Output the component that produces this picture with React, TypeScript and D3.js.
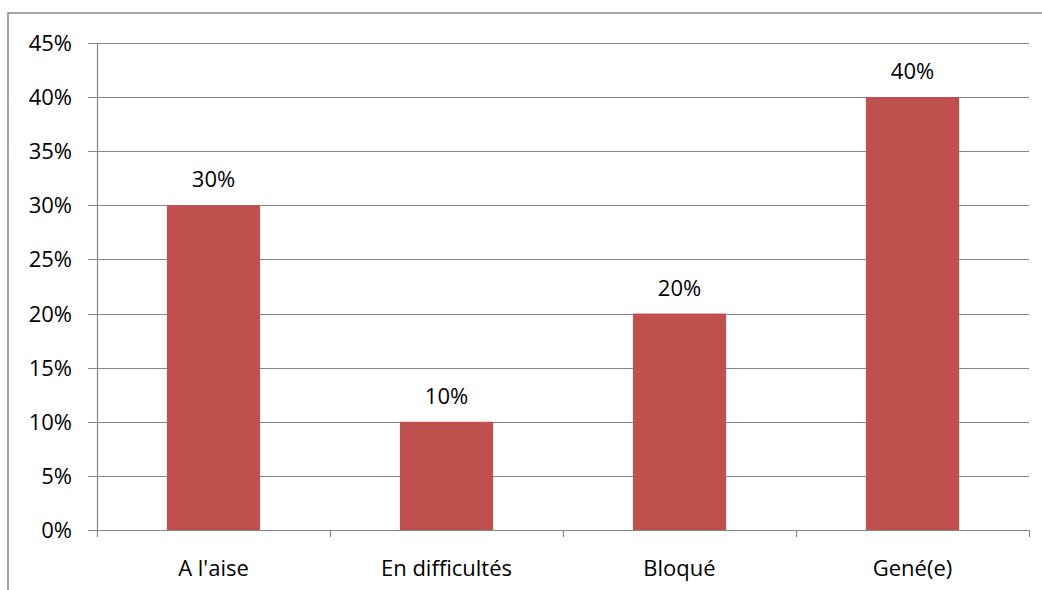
import React from "react";
import * as d3 from "d3";

const categories = ["A l'aise", "En difficultés", "Bloqué", "Gené(e)"];
const values = [0.3, 0.1, 0.2, 0.4];
const yTicks = [0, 0.05, 0.1, 0.15, 0.2, 0.25, 0.3, 0.35, 0.4, 0.45];

const W = 1042;
const H = 590;
const left = 97;
const right = 1029;
const top = 43;
const bottom = 530;
const font = "Open Sans, Noto Sans, sans-serif";
const grid = "#868686";
const fs = 22;

export default function App() {
  const x = d3.scaleBand<string>().domain(categories).range([left, right]).paddingInner(0.6).paddingOuter(0.3);
  const xb = d3.scaleBand<string>().domain(categories).range([left, right]);
  const y = d3.scaleLinear().domain([0, 0.45]).range([bottom, top]);
  const fmt = d3.format(".0%");
  return (
    <svg width={W} height={H} style={{ position: "absolute", left: 0, top: 0 }} fontFamily={font}>
      <rect x={0} y={0} width={W} height={H} fill="#fff" />
      <rect x={8} y={13} width={W + 20} height={H + 20} fill="none" stroke="#878787" strokeWidth={1.5} />
      {yTicks.map((t) => (
        <g key={t}>
          <line x1={left - 9} x2={right} y1={Math.round(y(t)) + 0.5} y2={Math.round(y(t)) + 0.5} stroke={grid} strokeWidth={1.2} />
          <text x={72} y={y(t) + 8} textAnchor="end" fontSize={fs} fill="#000">
            {fmt(t)}
          </text>
        </g>
      ))}
      <line x1={left + 0.5} x2={left + 0.5} y1={top} y2={bottom + 7} stroke={grid} strokeWidth={1.2} />
      {categories.map((c, i) => (
        <g key={c}>
          <line
            x1={Math.round(xb(c)! + xb.bandwidth()) + 0.5}
            x2={Math.round(xb(c)! + xb.bandwidth()) + 0.5}
            y1={bottom}
            y2={bottom + 7}
            stroke={grid}
            strokeWidth={1.2}
          />
          <rect x={x(c)} y={y(values[i])} width={x.bandwidth()} height={y(0) - y(values[i])} fill="#C0504D" />
          <text x={x(c)! + x.bandwidth() / 2} y={y(values[i]) - 18} textAnchor="middle" fontSize={fs} fill="#000">
            {fmt(values[i])}
          </text>
          <text x={xb(c)! + xb.bandwidth() / 2} y={576} textAnchor="middle" fontSize={fs} fill="#000">
            {c}
          </text>
        </g>
      ))}
      <line x1={left} x2={right} y1={bottom + 0.5} y2={bottom + 0.5} stroke={grid} strokeWidth={1.2} />
    </svg>
  );
}
